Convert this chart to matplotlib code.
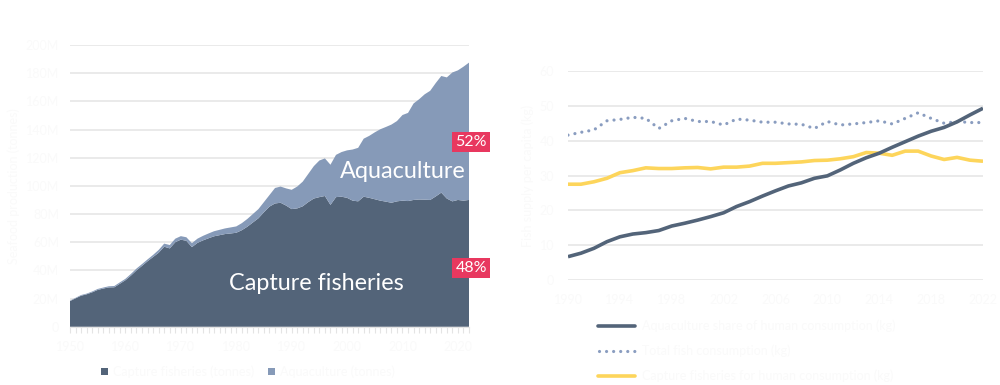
import matplotlib
matplotlib.use("Agg")
import matplotlib.pyplot as plt
from matplotlib.lines import Line2D

plt.rcParams['font.family'] = ['Lato', 'DejaVu Sans']

# ---------------- data ----------------
years_left = list(range(1950, 2023))
capture = [18.2, 20.1, 22.0, 23.0, 24.4, 26.1, 27.1, 27.9, 28.0, 30.5,
           33.0, 36.3, 40.0, 43.2, 46.5, 49.5, 52.5, 56.8, 55.6, 60.0,
           61.8, 61.0, 56.5, 59.5, 61.3, 62.8, 64.2, 65.0, 65.8, 66.2,
           66.7, 68.5, 71.0, 74.0, 77.0, 81.3, 85.3, 87.5, 88.0, 86.0,
           83.5, 84.0, 85.5, 88.5, 91.0, 92.0, 92.8, 86.5, 92.0, 92.3,
           91.5, 89.5, 89.0, 92.3, 91.5, 90.5, 89.5, 88.8, 88.0, 89.0,
           89.5, 89.2, 90.0, 90.3, 90.2, 90.0, 92.5, 95.2, 91.0, 89.0,
           90.0, 89.5, 90.0]
aquaculture = [0.3, 0.4, 0.5, 0.5, 0.6, 0.7, 0.7, 0.8, 0.9, 1.0,
               1.0, 1.2, 1.3, 1.3, 1.3, 1.5, 2.0, 2.2, 2.4, 2.5,
               2.5, 2.5, 2.8, 3.0, 3.2, 3.4, 3.6, 3.8, 4.0, 4.3,
               4.5, 5.0, 5.5, 6.0, 6.5, 7.2, 8.2, 11.0, 11.5, 12.2,
               13.7, 15.5, 17.5, 20.0, 23.0, 26.0, 26.7, 28.5, 30.0, 31.7,
               33.7, 36.3, 38.0, 41.2, 44.0, 47.5, 50.7, 53.0, 55.5, 57.0,
               60.8, 62.6, 68.5, 71.2, 74.8, 77.5, 80.5, 82.8, 86.0, 91.5,
               92.0, 95.1, 97.5]
left_xticks = [1950, 1960, 1970, 1980, 1990, 2000, 2010, 2020]
left_yticks = [0, 20, 40, 60, 80, 100, 120, 140, 160, 180, 200]
left_ytick_labels = ['0', '20M', '40M', '60M', '80M', '100M', '120M', '140M', '160M', '180M', '200M']
share_labels = ['52%', '48%']

years_right = list(range(1990, 2023))
aqua_line = [6.7, 7.7, 9.1, 11.0, 12.4, 13.2, 13.6, 14.2, 15.5, 16.3,
             17.2, 18.2, 19.3, 21.1, 22.5, 24.1, 25.6, 27.0, 27.9, 29.2,
             29.9, 31.6, 33.5, 35.1, 36.4, 38.1, 39.7, 41.3, 42.7, 43.8,
             45.4, 47.4, 49.3]
total_line = [41.6, 42.4, 43.1, 45.7, 46.1, 46.7, 46.4, 43.5, 45.7, 46.4,
              45.5, 45.5, 44.5, 46.2, 45.9, 45.3, 45.3, 44.8, 44.7, 43.5,
              45.5, 44.5, 44.8, 45.2, 45.7, 44.8, 46.4, 48.0, 46.4, 45.0,
              45.5, 45.2, 45.2]
capture_line = [27.5, 27.5, 28.2, 29.2, 30.8, 31.4, 32.2, 32.0, 32.0, 32.2,
                32.3, 31.9, 32.4, 32.4, 32.7, 33.5, 33.5, 33.7, 33.9, 34.3,
                34.4, 34.8, 35.4, 36.6, 36.4, 35.8, 37.0, 37.0, 35.6, 34.6,
                35.2, 34.4, 34.1]
right_xticks = [1990, 1994, 1998, 2002, 2006, 2010, 2014, 2018, 2022]
right_yticks = [0, 10, 20, 30, 40, 50, 60]
legend_left = ['Capture fisheries (tonnes)', 'Aquaculture (tonnes)']
legend_right = ['Aquaculture share of human consumption (kg)',
                'Total fish consumption (kg)',
                'Capture fisheries for human consumption (kg)']

# ---------------- style ----------------
DARK = '#536479'
LIGHT = '#869ab8'
YELLOW = '#fdd55b'
DOT = '#8a9dc0'
RED = '#e8385f'
GRID = '#e6e6e6'
FAINT = '#fafafa'
DOTSTYLE = (0, (0.01, 2.2))

fig = plt.figure(figsize=(10, 3.85), dpi=100)

# ---------------- left chart ----------------
ax = fig.add_axes([0.070, 0.1514, 0.399, 0.7317])
ax.stackplot(years_left, capture, aquaculture, colors=[DARK, LIGHT],
             linewidth=0, zorder=2)
ax.set_xlim(1950, 2022)
ax.set_ylim(0, 200)
ax.set_yticks(left_yticks)
ax.set_yticklabels(left_ytick_labels, color=FAINT, fontsize=9)
ax.yaxis.grid(True, color=GRID, linewidth=1.2, zorder=0)
ax.set_axisbelow(True)
ax.tick_params(axis='y', length=0, pad=8)
ax.set_xticks(left_xticks)
ax.set_xticks(years_left, minor=True)
ax.tick_params(axis='x', which='both', length=4, color='#e4e4e4', width=0.8,
               labelcolor=FAINT, labelsize=9, pad=6)
for s in ['top', 'right', 'left']:
    ax.spines[s].set_visible(False)
ax.spines['bottom'].set_color('#e4e4e4')
ax.set_ylabel('Seafood production (tonnes)', color=FAINT, fontsize=9)

ax.text(2010.0, 110.5, 'Aquaculture', color='white', fontsize=16.8,
        ha='center', va='center', zorder=3)
ax.text(1994.4, 31, 'Capture fisheries', color='white', fontsize=16.8,
        ha='center', va='center', zorder=3)

tag_y = [131, 41.5]
for lbl, yv in zip(share_labels, tag_y):
    ax.text(2022.4, yv, lbl, color='white', fontsize=11.5, ha='center',
            va='center', zorder=4, clip_on=False,
            bbox=dict(boxstyle='square,pad=0.2', fc=RED, ec='none'))

# left legend
for xx, col, txt in [(0.1005, DARK, legend_left[0]), (0.2675, LIGHT, legend_left[1])]:
    fig.patches.append(plt.Rectangle((xx, 0.0255), 0.007, 0.019,
                                     transform=fig.transFigure, fc=col, ec='none'))
    fig.text(xx + 0.0125, 0.035, txt, color=FAINT, fontsize=9, va='center')

# ---------------- right chart ----------------
ax2 = fig.add_axes([0.568, 0.2727, 0.415, 0.5429])
ax2.plot(years_right, total_line, color=DOT, linewidth=2.3,
         linestyle=DOTSTYLE, dash_capstyle='round', zorder=3)
ax2.plot(years_right, capture_line, color=YELLOW, linewidth=2.6, zorder=3,
         solid_capstyle='butt')
ax2.plot(years_right, aqua_line, color=DARK, linewidth=2.6, zorder=4,
         solid_capstyle='butt')
ax2.set_xlim(1990, 2022)
ax2.set_ylim(0, 60)
ax2.set_yticks(right_yticks)
ax2.set_xticks(right_xticks)
ax2.yaxis.grid(True, color=GRID, linewidth=1.2, zorder=0)
ax2.set_axisbelow(True)
ax2.tick_params(axis='both', length=0, labelcolor=FAINT, labelsize=9, pad=10)
for s in ax2.spines.values():
    s.set_visible(False)
ax2.set_ylabel('Fish supply per capita (kg)', color=FAINT, fontsize=9)

# right legend
leg_items = [
    (326, DARK, '-', legend_right[0]),
    (351, DOT, ':', legend_right[1]),
    (376, YELLOW, '-', legend_right[2]),
]
for ypx, col, ls, txt in leg_items:
    yfig = 1 - ypx / 385
    if ls == ':':
        l = Line2D([0.599, 0.635], [yfig, yfig], transform=fig.transFigure,
                   color=col, linewidth=2.3, linestyle=DOTSTYLE,
                   dash_capstyle='round')
    else:
        l = Line2D([0.598, 0.635], [yfig, yfig], transform=fig.transFigure,
                   color=col, linewidth=2.6, solid_capstyle='round')
    fig.lines.append(l)
    fig.text(0.642, yfig, txt, color=FAINT, fontsize=9, va='center')

fig.savefig('out.png', dpi=100, facecolor='white')
